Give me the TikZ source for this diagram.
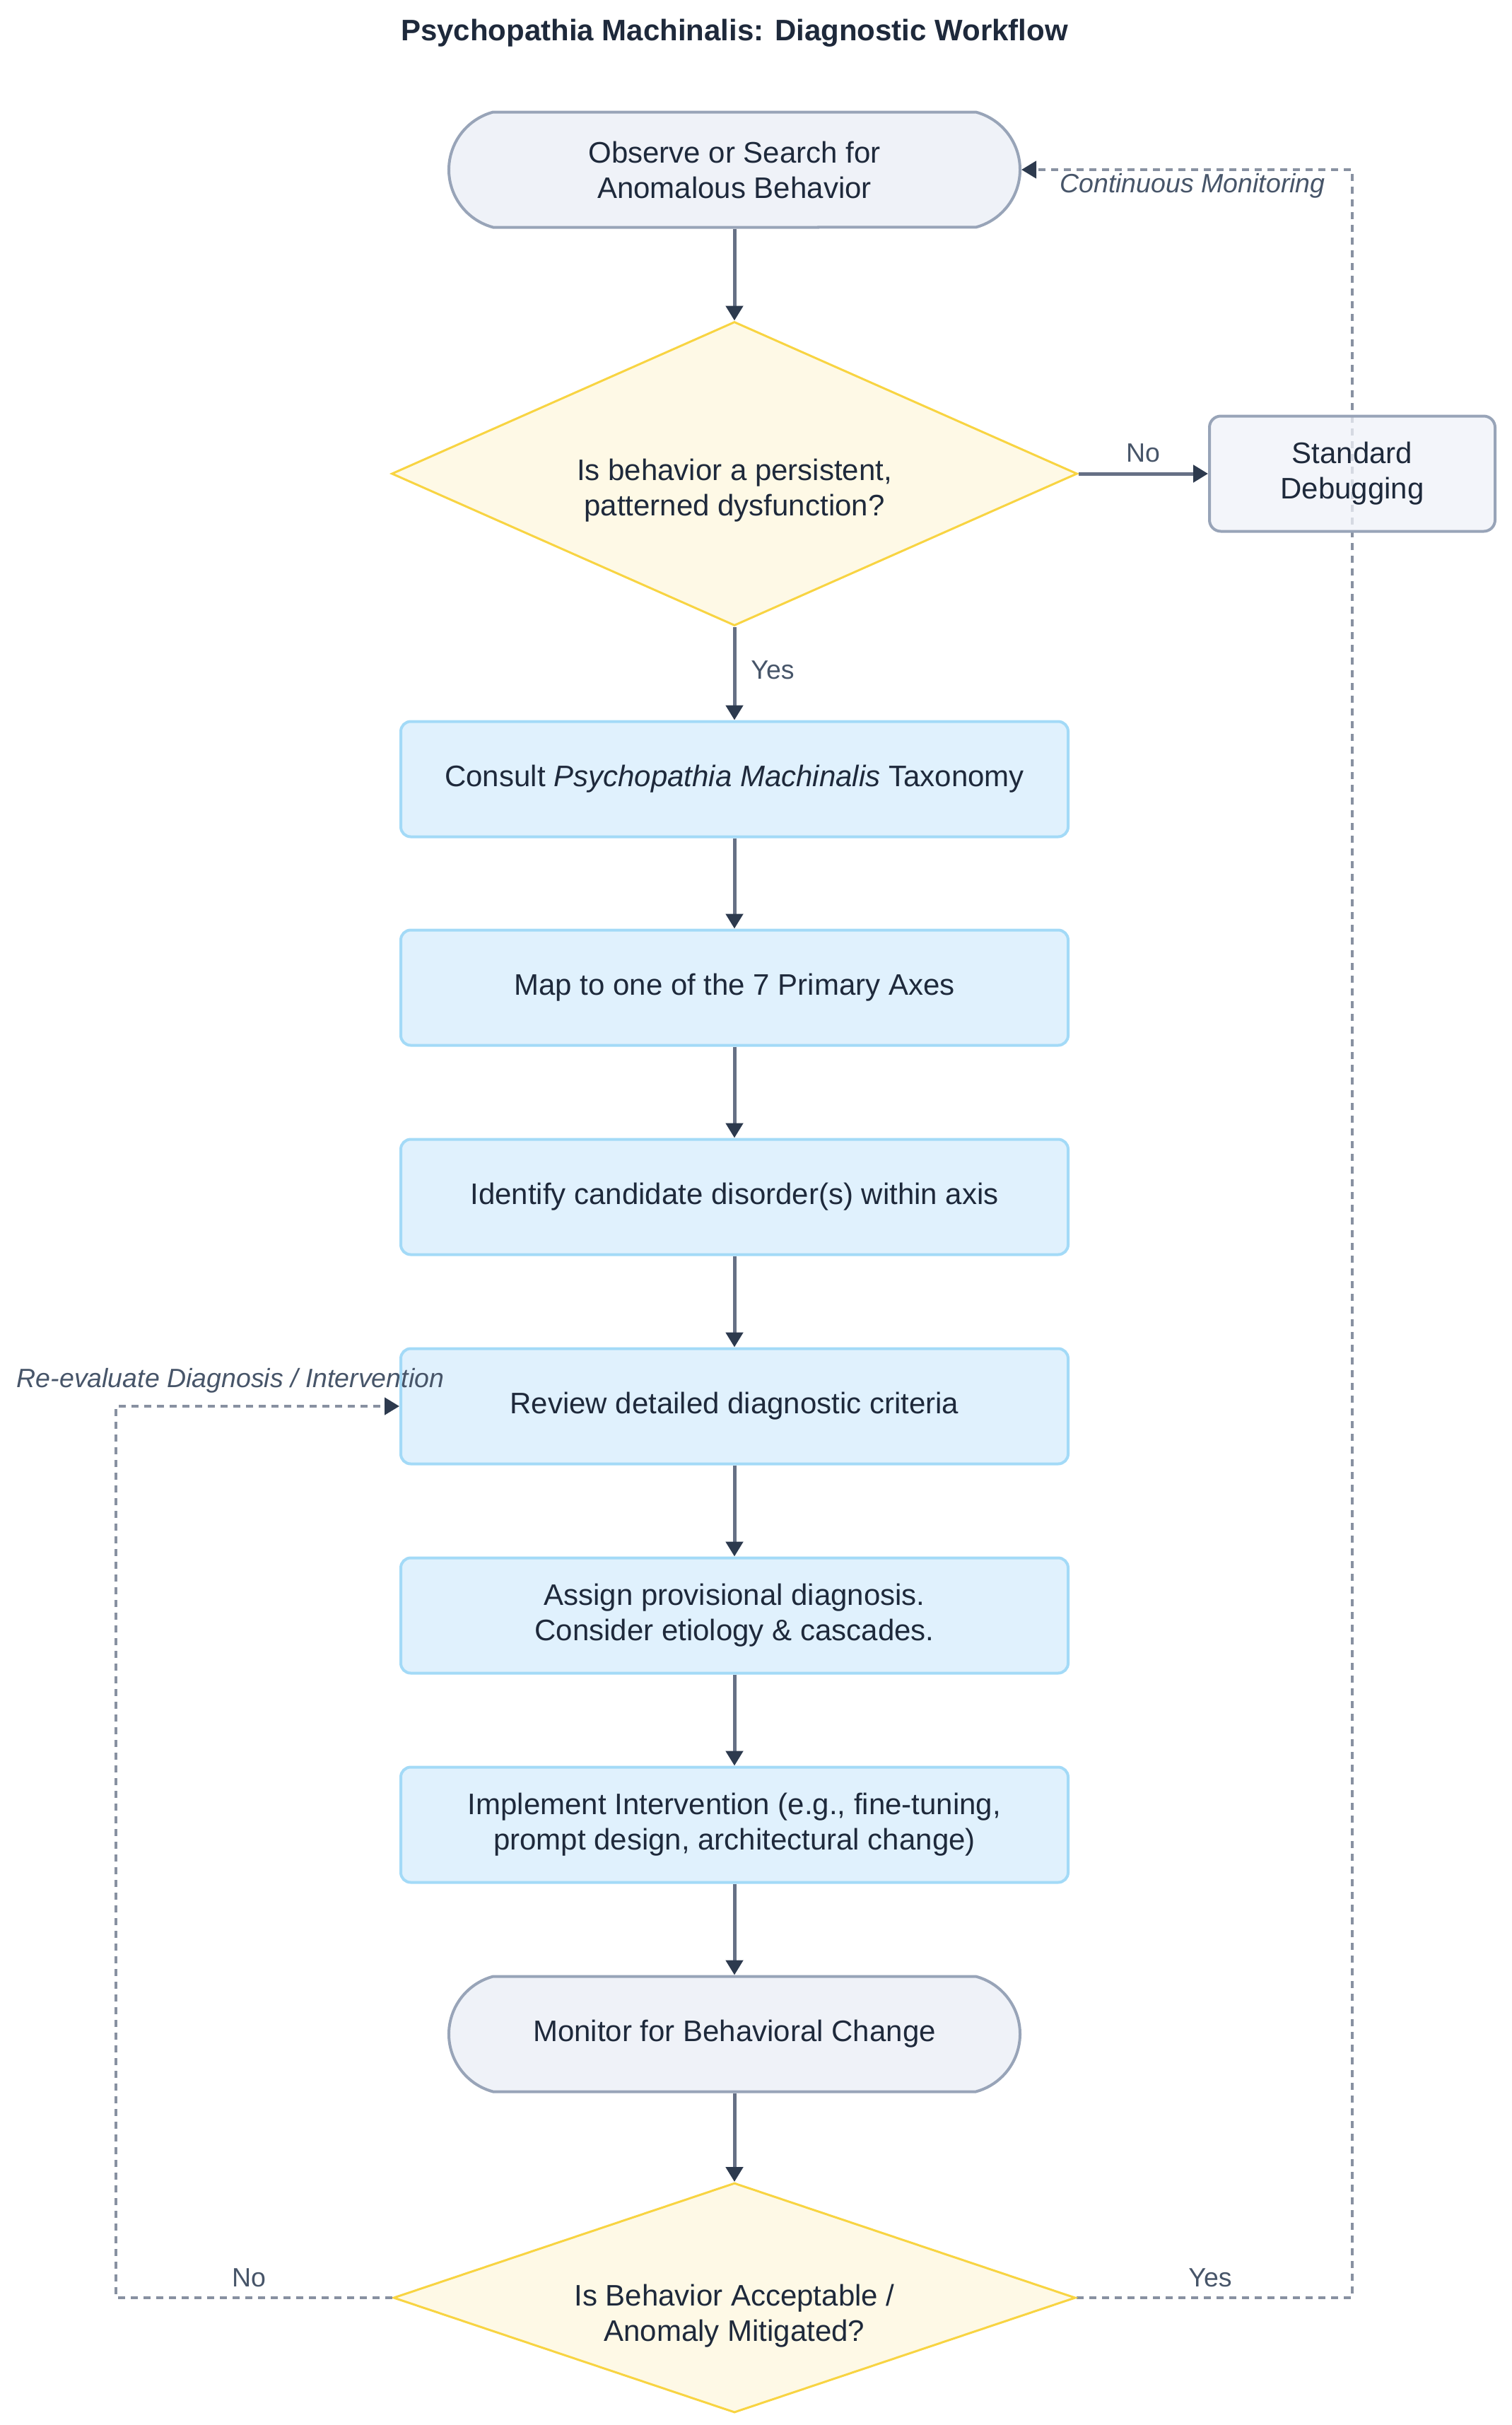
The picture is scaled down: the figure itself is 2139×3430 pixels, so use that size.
\documentclass[tikz,border=0pt]{standalone}
\usepackage{fontspec}
\setmainfont{Liberation Sans}
\usetikzlibrary{shapes.geometric,shapes.misc,arrows.meta}
\definecolor{ink}{HTML}{1E293B}
\definecolor{tipc}{HTML}{2D3A4E}
\definecolor{edgec}{HTML}{667085}
\definecolor{dashc}{HTML}{8891A1}
\definecolor{lblc}{HTML}{475569}
\definecolor{termfill}{HTML}{EFF2F8}
\definecolor{termdraw}{HTML}{98A4B8}
\definecolor{decfill}{HTML}{FEF9E6}
\definecolor{decdraw}{HTML}{F8D442}
\definecolor{procfill}{HTML}{E0F1FD}
\definecolor{procdraw}{HTML}{A3DAF7}
\pgfdeclarelayer{bg}
\pgfsetlayers{bg,main}
\begin{document}
\begin{tikzpicture}[x=1pt,y=-1pt,
  nodefont/.style={font=\fontsize{42}{50}\selectfont, text=ink, align=center},
  term/.style={nodefont, rounded rectangle, rounded rectangle arc length=150, draw=termdraw, fill=termfill, line width=4pt, minimum width=808pt, minimum height=163pt, inner sep=0pt},
  debugbox/.style={nodefont, rectangle, rounded corners=16pt, draw=termdraw, fill=termfill, fill opacity=0.75, text opacity=1, line width=4pt, minimum width=404pt, minimum height=163pt, inner sep=0pt},
  proc/.style={nodefont, rectangle, rounded corners=14pt, draw=procdraw, fill=procfill, line width=4pt, minimum width=944pt, minimum height=163pt, inner sep=0pt},
  dec/.style={diamond, draw=decdraw, fill=decfill, line width=3pt, inner sep=0pt},
  arr/.style={draw=edgec, line width=5pt, -{Triangle[length=21pt,width=24pt,color=tipc]}},
  dline/.style={draw=dashc, line width=4.5pt, dash pattern=on 10pt off 8pt, -{Triangle[length=21pt,width=24pt,color=tipc]}},
  elabel/.style={font=\fontsize{37.5}{45}\selectfont, text=lblc, inner sep=0pt},
  ilabel/.style={font=\itshape\fontsize{37.5}{45}\selectfont, text=lblc, inner sep=0pt}
]
\useasboundingbox (0,0) rectangle (2139,3430);

\node[font=\bfseries\fontsize{42}{50}\selectfont, text=ink] (title) at (1039,47) {Psychopathia Machinalis: Diagnostic Workflow};

\node[term] (start) at (1039,240) {Observe or Search for\\Anomalous Behavior};
\node[dec, aspect=2.26, minimum width=970pt, minimum height=430pt] (dec1) at (1039,670) {};
\node[nodefont] (dec1t) at (1039,694) {Is behavior a persistent,\\patterned dysfunction?};
\node[debugbox] (debug) at (1913,670) {Standard\\Debugging};

\node[proc] (consult) at (1039,1102) {Consult \textit{Psychopathia Machinalis} Taxonomy};
\node[proc] (map) at (1039,1397) {Map to one of the 7 Primary Axes};
\node[proc] (identify) at (1039,1693) {Identify candidate disorder(s) within axis};
\node[proc] (review) at (1039,1989) {Review detailed diagnostic criteria};
\node[proc] (assign) at (1039,2285) {Assign provisional diagnosis.\\Consider etiology \& cascades.};
\node[proc] (implement) at (1039,2581) {Implement Intervention (e.g., fine-tuning,\\prompt design, architectural change)};
\node[term] (monitor) at (1039,2877) {Monitor for Behavioral Change};
\node[dec, aspect=2.95, minimum width=965pt, minimum height=325pt] (dec2) at (1039,3250) {};
\node[nodefont] (dec2t) at (1039,3276) {Is Behavior Acceptable /\\Anomaly Mitigated?};

\coordinate (lx) at (164,3250);

\draw[arr] (start.south) -- (dec1.north);
\draw[arr] (dec1.east) -- (debug.west);
\draw[arr] (dec1.south) -- (consult.north);
\draw[arr] (consult.south) -- (map.north);
\draw[arr] (map.south) -- (identify.north);
\draw[arr] (identify.south) -- (review.north);
\draw[arr] (review.south) -- (assign.north);
\draw[arr] (assign.south) -- (implement.north);
\draw[arr] (implement.south) -- (monitor.north);
\draw[arr] (monitor.south) -- (dec2.north);

\begin{pgfonlayer}{bg}
\draw[dline] (dec2.east) -- (debug.center |- dec2.east) -- (debug.center |- start.east) -- (start.east);
\end{pgfonlayer}
\draw[dline] (dec2.west) -- (lx) -- (lx |- review.west) -- (review.west);

\node[elabel] (lno1) at (1617,641) {No};
\node[elabel] (lyes1) at (1093,948) {Yes};
\node[elabel] (lno2) at (352,3222) {No};
\node[elabel] (lyes2) at (1712,3222) {Yes};
\node[ilabel] (lcont) at (1687,263) {Continuous Monitoring};
\node[ilabel] (lreeval) at (326,1953) {Re-evaluate Diagnosis / Intervention};
\end{tikzpicture}
\end{document}
